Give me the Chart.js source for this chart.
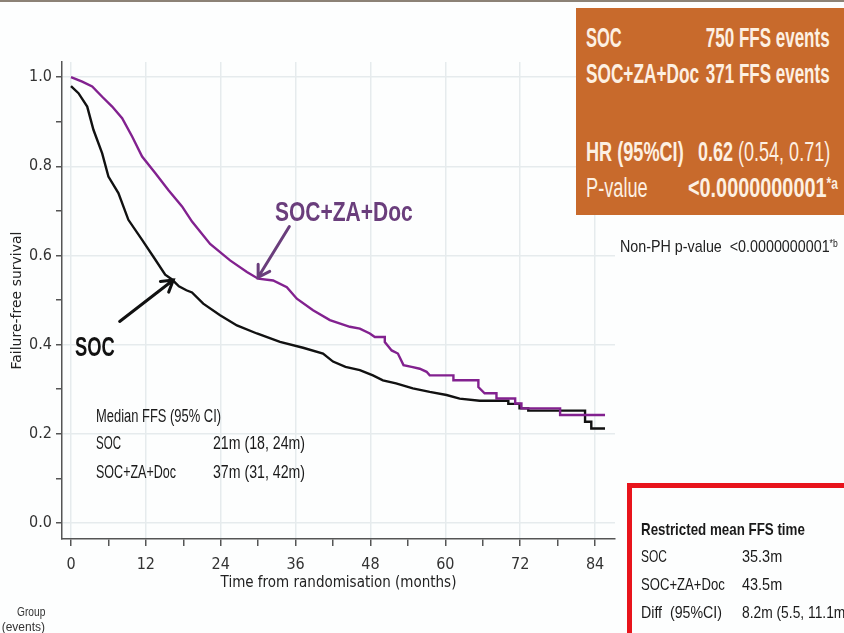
<!DOCTYPE html>
<html>
<head>
<meta charset="utf-8">
<script src="https://cdn.jsdelivr.net/npm/chart.js@4"></script>
<style>
  html, body { margin: 0; padding: 0; background: #fdfefe; }
  #wrap { position: relative; width: 844px; height: 633px; overflow: hidden; border-top: 2px solid #8c8276; box-sizing: border-box; }
  #chart { position: absolute; left: 0; top: -2px; }
  .t { position: absolute; white-space: nowrap; line-height: 1; font-family: "Liberation Sans", Arial, sans-serif; }
  #hrbox { position: absolute; left: 576px; top: 6px; width: 280px; height: 207px; background: #c86a2c; }
  .hb { color: #fdf0e2; font-size: 27px; font-weight: bold; }
  .hn { font-weight: normal; }
  sup { font-size: 0.6em; vertical-align: 0.5em; }
  #redbox { position: absolute; left: 627px; top: 481px; width: 260px; height: 200px; border: 5px solid #e8141c; }
  .m { font-size: 18px; color: #1a1a1a; }
  .r { font-size: 17px; color: #1a1a1a; }
</style>
</head>
<body>
<div id="wrap">
  <canvas id="chart" width="844" height="633"></canvas>

  <div id="hrbox"></div>
  <div class="t hb" data-w="36" style="left:586px; top:23px;">SOC</div>
  <div class="t hb" data-w="124" style="right:14px; top:23px;">750 FFS events</div>
  <div class="t hb" data-w="113" style="left:586px; top:59px;">SOC+ZA+Doc</div>
  <div class="t hb" data-w="124" style="right:14px; top:59px;">371 FFS events</div>
  <div class="t hb" data-w="98" style="left:586px; top:137px;">HR (95%CI)</div>
  <div class="t hb" data-w="132" style="right:14px; top:137px;">0.62 <span class="hn">(0.54, 0.71)</span></div>
  <div class="t hb hn" data-w="62" style="left:586px; top:173px;">P-value</div>
  <div class="t hb" data-w="150" style="right:6px; top:173px;">&lt;0.0000000001<sup>*a</sup></div>

  <div class="t" data-w="218" style="left:620px; top:236px; font-size:17px; color:#222;">Non-PH p-value&nbsp;&nbsp;&lt;0.0000000001<sup>*b</sup></div>

  <div class="t" data-w="138" style="left:275px; top:196px; font-size:28px; font-weight:bold; color:#6a3e7c;">SOC+ZA+Doc</div>
  <div class="t" data-w="40" style="left:75px; top:331px; font-size:28px; font-weight:bold; color:#111;">SOC</div>

  <div class="t m" data-w="125" style="left:96px; top:405px;">Median FFS (95% CI)</div>
  <div class="t m" data-w="25" style="left:96px; top:432px;">SOC</div>
  <div class="t m" data-w="92" style="left:213px; top:432px;">21m (18, 24m)</div>
  <div class="t m" data-w="80" style="left:96px; top:461px;">SOC+ZA+Doc</div>
  <div class="t m" data-w="92" style="left:213px; top:461px;">37m (31, 42m)</div>

  <div id="redbox"></div>
  <div class="t r" data-w="164" style="left:641px; top:519px; font-weight:bold;">Restricted mean FFS time</div>
  <div class="t r" data-w="26" style="left:641px; top:546px;">SOC</div>
  <div class="t r" data-w="40" style="left:742px; top:546px;">35.3m</div>
  <div class="t r" data-w="84" style="left:641px; top:574px;">SOC+ZA+Doc</div>
  <div class="t r" data-w="40" style="left:742px; top:574px;">43.5m</div>
  <div class="t r" data-w="81" style="left:641px; top:602px;">Diff&nbsp; (95%CI)</div>
  <div class="t r" data-w="108" style="left:742px; top:602px;">8.2m (5.5, 11.1m)</div>

  <div class="t" data-w="28" style="right:799px; top:604px; font-size:12px; color:#333;">Group</div>
  <div class="t" style="right:799px; top:619px; font-size:12px; color:#333;">Number at risk (events)</div>
</div>

<script>
// Kaplan-Meier curves (months, survival)
const socMonths = [0, 1.2, 2.6, 3.6, 5.0, 6.0, 7.6, 9.2, 11.4, 13.5, 15.1, 16.2, 17.3, 18.5, 19.4, 21.2, 23.9, 26.6, 29.8, 33.5, 37.2, 40.4, 42.0, 44.0, 46.3, 48.4, 50.0, 52.1, 54.8, 57.5, 60.2, 62.3, 65.5, 70.1, 70.1, 71.9, 71.9, 73.3, 73.3, 82.4, 82.4, 83.4, 83.4, 85.6];
const socSurv = [0.980, 0.964, 0.934, 0.882, 0.829, 0.777, 0.740, 0.680, 0.635, 0.591, 0.557, 0.546, 0.531, 0.522, 0.517, 0.492, 0.466, 0.443, 0.425, 0.406, 0.393, 0.380, 0.362, 0.350, 0.343, 0.331, 0.320, 0.313, 0.302, 0.294, 0.287, 0.279, 0.274, 0.274, 0.267, 0.267, 0.257, 0.257, 0.252, 0.252, 0.227, 0.227, 0.212, 0.212];

const zadMonths = [0, 1.8, 3.4, 5.0, 6.6, 8.2, 9.8, 11.4, 13.5, 15.6, 17.8, 19.4, 22.3, 25.5, 28.2, 30.0, 32.4, 34.6, 36.2, 38.8, 41.5, 44.7, 46.3, 47.9, 48.7, 50.3, 50.3, 51.4, 52.4, 53.3, 54.6, 55.9, 57.0, 57.5, 61.3, 61.3, 65.3, 65.3, 66.3, 68.2, 68.2, 71.2, 71.2, 72.2, 72.2, 78.4, 78.4, 85.6];
const zadSurv = [1.000, 0.990, 0.979, 0.956, 0.934, 0.908, 0.867, 0.822, 0.785, 0.747, 0.710, 0.676, 0.626, 0.589, 0.563, 0.548, 0.544, 0.529, 0.503, 0.477, 0.455, 0.440, 0.436, 0.425, 0.417, 0.417, 0.406, 0.387, 0.380, 0.354, 0.350, 0.346, 0.339, 0.331, 0.331, 0.320, 0.320, 0.305, 0.291, 0.291, 0.279, 0.279, 0.268, 0.268, 0.257, 0.257, 0.242, 0.242];

const xTicks = [0, 6, 12, 18, 24, 30, 36, 42, 48, 54, 60, 66, 72, 78, 84];
const yTicks = [0, 0.1, 0.2, 0.3, 0.4, 0.5, 0.6, 0.7, 0.8, 0.9, 1.0];

// label arrows, in data coordinates: [month, survival]
const arrows = [
    { from: [7.8, 0.452], to: [16.4, 0.545], color: '#111' },
    { from: [35.0, 0.665], to: [30.0, 0.551], color: '#6a3e7c' },
];

// squeeze the overlay texts to the narrow widths of the original
document.querySelectorAll('[data-w]').forEach(el => {
    const k = parseFloat(el.dataset.w) / el.offsetWidth;
    el.style.transformOrigin = el.style.right ? 'right center' : 'left center';
    el.style.transform = 'scaleX(' + k + ')';
});

const toPoints = (xs, ys) => xs.map((x, i) => ({ x: x, y: ys[i] }));

const arrowPlugin = {
    id: 'arrows',
    afterDatasetsDraw(chart) {
        const { ctx, scales: { x, y } } = chart;
        ctx.save();
        arrows.forEach(a => {
            const x1 = x.getPixelForValue(a.from[0]), y1 = y.getPixelForValue(a.from[1]);
            const x2 = x.getPixelForValue(a.to[0]), y2 = y.getPixelForValue(a.to[1]);
            const ang = Math.atan2(y2 - y1, x2 - x1);
            ctx.strokeStyle = a.color;
            ctx.lineWidth = 3;
            ctx.lineCap = 'round';
            ctx.beginPath();
            ctx.moveTo(x1, y1);
            ctx.lineTo(x2, y2);
            ctx.moveTo(x2 - 13 * Math.cos(ang - 0.55), y2 - 13 * Math.sin(ang - 0.55));
            ctx.lineTo(x2, y2);
            ctx.lineTo(x2 - 13 * Math.cos(ang + 0.55), y2 - 13 * Math.sin(ang + 0.55));
            ctx.stroke();
        });
        ctx.restore();
    }
};

const tickFont = { family: "'DejaVu Sans Condensed', sans-serif", size: 16 };

new Chart(document.getElementById('chart'), {
    type: 'line',
    data: {
        datasets: [
            {
                label: 'SOC+ZA+Doc',
                data: toPoints(zadMonths, zadSurv),
                borderColor: '#82218f',
                borderWidth: 2.4,
                pointRadius: 0,
                tension: 0,
                fill: false,
            },
            {
                label: 'SOC',
                data: toPoints(socMonths, socSurv),
                borderColor: '#111111',
                borderWidth: 2.4,
                pointRadius: 0,
                tension: 0,
                fill: false,
            },
        ]
    },
    options: {
        responsive: false,
        animation: false,
        layout: { padding: { top: 62, right: 229, bottom: 33, left: 0 } },
        scales: {
            x: {
                type: 'linear',
                min: -1.44,
                max: 87.2,
                afterBuildTicks: axis => { axis.ticks = xTicks.map(v => ({ value: v })); },
                afterFit: axis => { axis.height = 61; },
                ticks: {
                    callback: v => (v % 12 === 0 ? String(v) : ''),
                    color: '#333',
                    font: tickFont,
                    padding: 9,
                    maxRotation: 0,
                    autoSkip: false,
                },
                grid: {
                    color: c => (c.tick && c.tick.value % 12 === 0 ? '#e6ebed' : 'rgba(0,0,0,0)'),
                    tickColor: '#555',
                    tickLength: 7,
                    lineWidth: 1.5,
                },
                border: { display: true, color: '#555', width: 1.5 },
                title: {
                    display: true,
                    text: 'Time from randomisation (months)',
                    color: '#222',
                    font: { family: "'DejaVu Sans Condensed', sans-serif", size: 15 },
                    padding: { top: 0, bottom: 8 },
                },
            },
            y: {
                type: 'linear',
                min: -0.036,
                max: 1.034,
                afterBuildTicks: axis => { axis.ticks = yTicks.map(v => ({ value: v })); },
                afterFit: axis => { axis.width = 62; },
                ticks: {
                    callback: v => (Math.round(v * 10) % 2 === 0 ? v.toFixed(1) : ''),
                    color: '#333',
                    font: tickFont,
                    padding: 4,
                    autoSkip: false,
                },
                grid: {
                    color: c => (c.tick && Math.round(c.tick.value * 10) % 2 === 0 ? '#e6ebed' : 'rgba(0,0,0,0)'),
                    tickColor: '#555',
                    tickLength: 6,
                    lineWidth: 1.5,
                },
                border: { display: true, color: '#555', width: 1.5 },
                title: {
                    display: true,
                    text: 'Failure-free survival',
                    color: '#222',
                    font: { family: "'DejaVu Sans', sans-serif", size: 14 },
                    padding: { top: 9, bottom: 0 },
                },
            },
        },
        plugins: {
            legend: { display: false },
            tooltip: { enabled: false },
        },
    },
    plugins: [arrowPlugin],
});
</script>
</body>
</html>
